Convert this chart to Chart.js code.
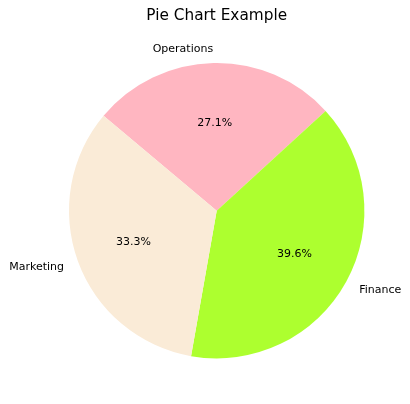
<!DOCTYPE html>
<html>
<head>
<meta charset="utf-8">
<script src="https://cdn.jsdelivr.net/npm/chart.js@4/dist/chart.umd.min.js"></script>
<style>
  html, body { margin: 0; padding: 0; background: #fff; }
  #wrap { width: 410px; height: 404px; position: relative; }
</style>
</head>
<body>
<div id="wrap"><canvas id="myChart" width="410" height="404"></canvas></div>
<script>
// data, in the order matplotlib drew it (counter-clockwise from 140 deg)
var labels = ['Marketing', 'Finance', 'Operations'];
var values = [16, 19, 13];
var colors = ['#FAEBD7', '#ADFF2F', '#FFB6C1'];
var title = 'Pie Chart Example';

// Chart.js goes clockwise, so flip the order to get the same layout
var cjLabels = labels.slice().reverse();
var cjValues = values.slice().reverse();
var cjColors = colors.slice().reverse();

var total = values.reduce(function (a, b) { return a + b; }, 0);
var font = 'DejaVu Sans';

var pieText = {
    id: 'pieText',
    afterDatasetsDraw: function (chart) {
        var c = chart.ctx;
        var meta = chart.getDatasetMeta(0);
        c.save();
        c.fillStyle = '#000';
        c.textBaseline = 'middle';

        meta.data.forEach(function (arc, i) {
            var mid = (arc.startAngle + arc.endAngle) / 2;
            var r = arc.outerRadius;
            var cos = Math.cos(mid), sin = Math.sin(mid);

            // category label at 1.1 r
            c.font = '11px "' + font + '"';
            c.textAlign = cos < 0 ? 'right' : 'left';
            c.fillText(cjLabels[i], arc.x + 1.1 * r * cos, arc.y + 1.1 * r * sin + 1);

            // percentage at 0.6 r
            var pct = (cjValues[i] / total * 100).toFixed(1) + '%';
            c.textAlign = 'center';
            c.fillText(pct, arc.x + 0.6 * r * cos, arc.y + 0.6 * r * sin + 1);
        });

        // title
        c.font = '15.3px "' + font + '"';
        c.textAlign = 'center';
        c.textBaseline = 'alphabetic';
        c.fillText(title, (chart.chartArea.left + chart.chartArea.right) / 2, 20);
        c.restore();
    }
};

var ctx = document.getElementById('myChart').getContext('2d');
var myChart = new Chart(ctx, {
    type: 'pie',
    data: {
        labels: cjLabels,
        datasets: [{
            data: cjValues,
            backgroundColor: cjColors,
            borderWidth: 0
        }]
    },
    options: {
        responsive: false,
        animation: false,
        rotation: -50,
        layout: {
            padding: { left: 69, right: 45.6, top: 63, bottom: 45.6 }
        },
        plugins: {
            legend: { display: false },
            title: { display: false },
            tooltip: { enabled: false }
        }
    },
    plugins: [pieText]
});
</script>
</body>
</html>
